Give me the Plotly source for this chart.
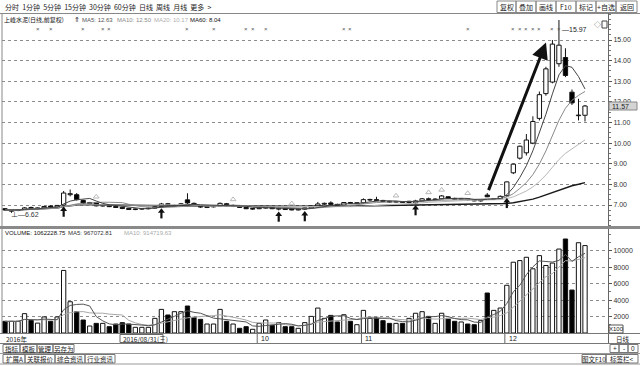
import plotly.graph_objects as go
import pandas as pd

W, H = 640, 366

# ---------------- data ----------------
opens = [6.82, 6.70, 6.74, 6.78, 6.88, 6.82, 6.86, 6.95, 6.90, 7.00,
         7.50, 7.50, 7.22, 7.06, 7.12, 6.95, 6.98, 6.93, 6.89, 6.84,
         6.78, 6.80, 6.82, 6.85, 6.92, 7.06, 6.95, 6.98, 7.25, 7.08,
         6.98, 6.88, 6.91, 6.95, 7.06, 6.95, 6.96, 6.88, 6.80, 6.82,
         6.85, 6.90, 6.80, 6.84, 6.80, 6.76, 6.80, 6.86, 6.95, 7.04,
         7.10, 7.03, 6.99, 7.12, 7.08, 7.10, 7.24, 7.26, 7.22, 7.18,
         7.14, 7.17, 7.12, 7.10, 7.20, 7.30, 7.26, 7.30, 7.40, 7.32,
         7.27, 7.30, 7.24, 7.20, 7.48, 7.28, 7.30, 7.45, 8.56, 9.27,
         9.53, 10.00, 11.20, 12.40, 12.96, 13.85, 14.15, 12.47, 11.33, 11.35]
highs = [6.85, 6.78, 6.80, 6.90, 6.92, 6.88, 6.95, 6.98, 7.00, 7.68,
         7.75, 7.58, 7.26, 7.15, 7.15, 7.02, 7.00, 6.96, 6.92, 6.86,
         6.83, 6.85, 6.87, 6.95, 7.10, 7.10, 7.02, 7.10, 7.57, 7.12,
         7.00, 6.94, 6.96, 7.12, 7.10, 7.02, 6.98, 6.90, 6.84, 6.88,
         6.92, 6.92, 6.86, 6.86, 6.82, 6.82, 6.88, 6.98, 7.15, 7.12,
         7.18, 7.06, 7.14, 7.15, 7.12, 7.32, 7.30, 7.40, 7.25, 7.20,
         7.20, 7.19, 7.20, 7.25, 7.34, 7.36, 7.32, 7.48, 7.42, 7.35,
         7.33, 7.32, 7.27, 7.26, 7.58, 7.34, 7.46, 8.14, 9.00, 9.88,
         10.44, 11.30, 12.50, 13.70, 15.00, 15.97, 14.60, 12.60, 12.15, 11.85]
lows = [6.72, 6.62, 6.70, 6.76, 6.80, 6.79, 6.84, 6.86, 6.88, 6.98,
        7.42, 7.22, 7.05, 7.02, 6.93, 6.92, 6.90, 6.86, 6.80, 6.76,
        6.75, 6.77, 6.79, 6.83, 6.90, 6.98, 6.92, 6.96, 7.05, 6.98,
        6.86, 6.85, 6.88, 6.93, 6.92, 6.90, 6.86, 6.80, 6.76, 6.80,
        6.82, 6.80, 6.74, 6.76, 6.74, 6.74, 6.76, 6.84, 6.92, 7.00,
        7.00, 6.96, 6.97, 7.06, 7.04, 7.08, 7.18, 7.18, 7.14, 7.10,
        7.10, 7.10, 7.08, 7.05, 7.18, 7.24, 7.22, 7.28, 7.30, 7.26,
        7.24, 7.22, 7.18, 7.16, 7.38, 7.24, 7.28, 7.40, 8.50, 9.20,
        9.40, 9.95, 11.10, 12.30, 12.90, 13.70, 13.20, 11.85, 11.10, 11.05]
closes = [6.76, 6.74, 6.78, 6.86, 6.82, 6.86, 6.93, 6.90, 6.98, 7.58,
          7.55, 7.26, 7.08, 7.12, 6.96, 6.98, 6.92, 6.88, 6.83, 6.78,
          6.81, 6.83, 6.85, 6.92, 7.05, 7.02, 6.98, 7.06, 7.10, 7.02,
          6.90, 6.92, 6.94, 7.08, 6.95, 6.97, 6.88, 6.82, 6.82, 6.86,
          6.90, 6.82, 6.84, 6.78, 6.76, 6.80, 6.86, 6.95, 7.05, 7.08,
          7.03, 6.99, 7.12, 7.08, 7.10, 7.26, 7.27, 7.22, 7.18, 7.14,
          7.17, 7.12, 7.18, 7.20, 7.30, 7.27, 7.29, 7.44, 7.32, 7.28,
          7.30, 7.24, 7.20, 7.24, 7.40, 7.31, 7.42, 8.12, 8.98, 9.85,
          10.15, 11.05, 12.35, 13.60, 14.80, 14.75, 13.28, 11.95, 11.35, 11.80]
volumes = [1420, 1420, 1420, 2350, 1540, 1200, 1950, 1420, 1950, 7600,
           3800, 2590, 1580, 850, 1170, 1170, 770, 1090, 1260, 1090,
           690, 690, 690, 1780, 2870, 2190, 2590, 2590, 3280, 1900,
           1660, 1090, 1090, 2870, 1420, 1090, 570, 770, 450, 1170,
           1580, 930, 1260, 770, 770, 570, 1260, 2020, 3030, 1780,
           2140, 1340, 2220, 1420, 1010, 2750, 1780, 1900, 1500, 1170,
           1170, 1170, 1780, 2400, 2590, 2020, 1170, 2400, 1780, 1420,
           1340, 1090, 1010, 1500, 4860, 2750, 3030, 5800, 8600, 8800,
           9200, 7800, 9400, 8200, 8500, 10200, 11420, 5220, 10970, 10622]

price_ticks = [7, 8, 9, 10, 11, 12, 13, 14, 15]
vol_ticks = [2000, 4000, 6000, 8000, 10000]
month_labels = ["10", "11", "12"]
month_idx = [39, 55, 77]
signal_x_idx = [5, 7, 12, 15, 16, 28, 32, 37, 38, 40, 52, 53, 71, 78, 79, 80, 81, 82, 84, 85]
buy_arrow_idx = [9, 24, 42, 46, 63, 77]
hint_idx = [14, 35, 44, 60, 65, 67, 71]
price_header = ["MA5: 12.63", "MA10: 12.50", "MA20: 10.17", "MA60: 8.04"]
vol_header = ["VOLUME: 1062228.75", "MA5: 967072.81", "MA10: 914719.63"]
last_price_label = "11.57"
high_label = "15.97"
low_label = "6.62"

# ---------------- helpers ----------------
def PX(x):
    return x / W

def PY(y):
    return 1 - y / H

FONT = "Liberation Sans, Noto Sans CJK SC, sans-serif"
CJK = "Noto Sans CJK SC, sans-serif"

n = len(closes)
idx = list(range(n))
cs = pd.Series(closes)
ma5 = cs.rolling(5, min_periods=1).mean()
ma10 = cs.rolling(10, min_periods=1).mean()
ma20 = cs.rolling(20, min_periods=1).mean()
ma60 = cs.rolling(60, min_periods=1).mean()
vs = pd.Series(volumes)
vma5 = vs.rolling(5, min_periods=1).mean()
vma10 = vs.rolling(10, min_periods=1).mean()

up = [c >= o for o, c in zip(opens, closes)]

fig = go.Figure()

# wicks (drawn outside bodies)
wx, wy = [], []
for i in idx:
    top = max(opens[i], closes[i])
    bot = min(opens[i], closes[i])
    if highs[i] > top:
        wx += [i, i, None]
        wy += [top, highs[i], None]
    if lows[i] < bot:
        wx += [i, i, None]
        wy += [bot, lows[i], None]
fig.add_trace(go.Scatter(x=wx, y=wy, mode="lines", line=dict(color="#111", width=1),
                         hoverinfo="skip", showlegend=False, xaxis="x", yaxis="y"))

BODY_W = 0.66
for flag, fill in [(True, "white"), (False, "black")]:
    xs = [i for i in idx if up[i] == flag]
    base = [min(opens[i], closes[i]) for i in xs]
    hgt = [max(abs(closes[i] - opens[i]), 0.03) for i in xs]
    fig.add_trace(go.Bar(x=xs, y=hgt, base=base, width=BODY_W,
                         marker=dict(color=fill, line=dict(color="#111", width=1)),
                         showlegend=False, xaxis="x", yaxis="y"))

# price MAs
for s, col, w in [(ma60, "#1a1a1a", 1.4), (ma20, "#b8b8b8", 1), (ma10, "#8a8a8a", 1), (ma5, "#444", 1)]:
    fig.add_trace(go.Scatter(x=idx, y=s, mode="lines", line=dict(color=col, width=w),
                             showlegend=False, hoverinfo="skip", xaxis="x", yaxis="y"))

# signal arrows (below candles): head + shaft
fig.add_trace(go.Scatter(x=buy_arrow_idx, y=[lows[i] - 0.2 for i in buy_arrow_idx], mode="markers",
                         marker=dict(symbol="triangle-up", size=6, color="#111"),
                         showlegend=False, hoverinfo="skip", xaxis="x", yaxis="y"))
fig.add_trace(go.Scatter(x=buy_arrow_idx, y=[lows[i] - 0.38 for i in buy_arrow_idx], mode="markers",
                         marker=dict(symbol="line-ns", size=5, color="#111", line=dict(width=2.2, color="#111")),
                         showlegend=False, hoverinfo="skip", xaxis="x", yaxis="y"))
# hint triangles (above candles)
fig.add_trace(go.Scatter(x=hint_idx, y=[highs[i] + 0.25 for i in hint_idx], mode="markers",
                         marker=dict(symbol="triangle-up-open", size=5, color="#b8b8b8", line=dict(width=1)),
                         showlegend=False, hoverinfo="skip", xaxis="x", yaxis="y"))

# volume bars
for flag, fill in [(True, "white"), (False, "black")]:
    xs = [i for i in idx if up[i] == flag]
    fig.add_trace(go.Bar(x=xs, y=[volumes[i] for i in xs], width=BODY_W,
                         marker=dict(color=fill, line=dict(color="#111", width=1)),
                         showlegend=False, xaxis="x2", yaxis="y2"))
for s, col in [(vma10, "#a8a8a8"), (vma5, "#555")]:
    fig.add_trace(go.Scatter(x=idx, y=s, mode="lines", line=dict(color=col, width=1),
                             showlegend=False, hoverinfo="skip", xaxis="x2", yaxis="y2"))

# ---------------- axes ----------------
px_per = 6.517
x0 = (2 - 5) / px_per
x1 = (608 - 5) / px_per
p_top = 7 + (205 - 14) / 20.625
p_bot = 7 - (226 - 205) / 20.625
v_top = (333 - 229) / 0.00823
v_bot = -(334 - 333) / 0.00823

axis_common = dict(showline=False, zeroline=False, showticklabels=False, showgrid=False, fixedrange=True)
fig.update_layout(
    width=W, height=H, margin=dict(l=0, r=0, t=0, b=0),
    paper_bgcolor="white", plot_bgcolor="white", barmode="overlay",
    font=dict(family=FONT, size=7, color="#222"),
    xaxis=dict(domain=[PX(2), PX(608)], range=[x0, x1], anchor="y", **axis_common),
    xaxis2=dict(domain=[PX(2), PX(608)], range=[x0, x1], anchor="y2", matches="x", **axis_common),
    yaxis=dict(domain=[PY(226), PY(14)], range=[p_bot, p_top], side="right", anchor="x",
               tickvals=price_ticks, ticktext=[f"{v:.2f}" for v in price_ticks],
               ticks="outside", ticklen=3, tickcolor="#555", tickfont=dict(size=7, color="#333"),
               showgrid=True, gridcolor="#8c8c8c", griddash="dot", gridwidth=1,
               zeroline=False, showline=False, fixedrange=True,
               minor=dict(ticks="outside", ticklen=2, dtick=0.25, tickcolor="#777", showgrid=False)),
    yaxis2=dict(domain=[PY(334), PY(229)], range=[v_bot, v_top], side="right", anchor="x2",
                tickvals=vol_ticks, ticktext=[str(v) for v in vol_ticks],
                ticks="outside", ticklen=3, tickcolor="#555", tickfont=dict(size=7, color="#333"),
                showgrid=True, gridcolor="#8c8c8c", griddash="dot", gridwidth=1,
                zeroline=False, showline=False, fixedrange=True,
                minor=dict(ticks="outside", ticklen=2, dtick=1000, tickcolor="#777", showgrid=False)),
)

shapes = []
ann = []

def line(x0_, y0_, x1_, y1_, col="#777", w=1):
    shapes.append(dict(type="line", xref="paper", yref="paper", x0=PX(x0_), y0=PY(y0_),
                       x1=PX(x1_), y1=PY(y1_), line=dict(color=col, width=w)))

def rect(x0_, y0_, x1_, y1_, col="#777", fill="rgba(0,0,0,0)", w=1):
    shapes.append(dict(type="rect", xref="paper", yref="paper", x0=PX(x0_), y0=PY(y0_),
                       x1=PX(x1_), y1=PY(y1_), line=dict(color=col, width=w), fillcolor=fill))

def text(x, y, t, size=7, col="#222", anchor="left", fam=FONT):
    ann.append(dict(xref="paper", yref="paper", x=PX(x), y=PY(y), text=t, showarrow=False,
                    xanchor=anchor, yanchor="middle", font=dict(size=size, color=col, family=fam)))

# frame lines
line(0, 13.5, 640, 13.5, "#888")
line(2, 13, 2, 334, "#888")
line(608.5, 13, 608.5, 343, "#666")
line(0, 227.5, 640, 227.5, "#8a8a8a", 3)
line(0, 333.5, 640, 333.5, "#777")
line(0, 343.5, 640, 343.5, "#777")
line(0, 353.5, 640, 353.5, "#999")
line(0, 364, 640, 364, "#999")

# toolbar
text(3, 7, "分时  1分钟  5分钟  15分钟  30分钟  60分钟  日线  周线  月线  更多  >", 7, "#222", fam=CJK)
btns = [("复权", 497, 516), ("叠加", 516, 536), ("画线", 536, 556), ("F10", 556, 576),
        ("标记", 576, 596), ("+自选", 596, 616), ("返回", 616, 637)]
for t, a, b in btns:
    rect(a, 1, b, 12.5, "#888")
    text((a + b) / 2, 7, t, 7, "#222", "center", CJK)

# price header
text(2, 19.5, "上峰水泥(日线,前复权)", 6, "#111", fam=CJK)
text(72, 19.5, "⇑", 6.5, "#111")
hdr_x = [80, 115, 152, 188]
hdr_c = ["#555", "#8a8a8a", "#b0b0b0", "#111"]
for t, xx, cc in zip(price_header, hdr_x, hdr_c):
    text(xx, 19.5, t, 6, cc)

# signal crosses on top row
for i in signal_x_idx:
    ann.append(dict(xref="x", yref="paper", x=i, y=PY(28.5), text="×", showarrow=False,
                    font=dict(size=6, color="#555"), xanchor="center", yanchor="middle"))
text(597, 25, "◇", 7, "#444", "center")
rect(602, 21, 607, 28, "#444")

# high / low labels
text(560, 30, "—" + high_label, 7, "#222")
text(9, 214, "⊥—" + low_label, 7, "#333")

# last price box
rect(609, 102, 637, 110, "#888", "#d4d4d4")
text(610, 106, last_price_label, 7, "#222")

# big drawn arrow
ann.append(dict(xref="x", yref="y", axref="x", ayref="y", x=(546 - 5) / px_per, y=14.88,
                ax=(488 - 5) / px_per, ay=7.65, showarrow=True, arrowhead=2, arrowsize=1.1,
                arrowwidth=3, arrowcolor="#111", text=""))

# volume header
vh_x = [3, 66, 122]
vh_c = ["#111", "#333", "#aaa"]
for t, xx, cc in zip(vol_header, vh_x, vh_c):
    text(xx, 232.5, t, 6, cc)

# X100 box
rect(609, 325, 623, 333, "#555")
text(616, 329, "X100", 6, "#222", "center")

# date row
text(4, 338.5, "2016年", 6.5, "#222", fam=CJK)
rect(120, 334.5, 163, 342.5, "#666")
text(121, 338.5, "2016/08/31(三)", 6.5, "#222", fam=CJK)
for lab, i in zip(month_labels, month_idx):
    ann.append(dict(xref="x", yref="paper", x=i, y=PY(338.5), text=lab, showarrow=False,
                    xanchor="left", yanchor="middle", font=dict(size=7, color="#222")))
    shapes.append(dict(type="line", xref="x", yref="paper", x0=i - 0.3, x1=i - 0.3,
                       y0=PY(334), y1=PY(343), line=dict(color="#666", width=1)))
text(623, 338.5, "日线", 6.5, "#222", "center", CJK)

# bottom rows
row3 = [("指标", 3, 20), ("模板", 20, 37), ("管理", 37, 53), ("另存为", 53, 74)]
for t, a, b in row3:
    rect(a, 344.5, b, 352.5, "#777")
    text((a + b) / 2, 348.5, t, 6.5, "#222", "center", CJK)
row4 = [("扩展A", 3, 25), ("关联报价", 25, 55), ("综合资讯", 55, 85), ("行业资讯", 85, 115)]
for t, a, b in row4:
    rect(a, 354.5, b, 363, "#777")
    text((a + b) / 2, 358.8, t, 6.5, "#222", "center", CJK)
for t, a, b in [("+", 610, 619), ("-", 619, 628), ("0", 628, 638)]:
    rect(a, 344.5, b, 352.5, "#777")
    text((a + b) / 2, 348.5, t, 6.5, "#222", "center")
for t, a, b in [("图文F10", 582, 606), ("标签栏<", 606, 638)]:
    rect(a, 354.5, b, 363, "#777")
    text((a + b) / 2, 358.8, t, 6.5, "#222", "center", CJK)

fig.update_layout(shapes=shapes, annotations=ann)
fig.write_html("out.html")
